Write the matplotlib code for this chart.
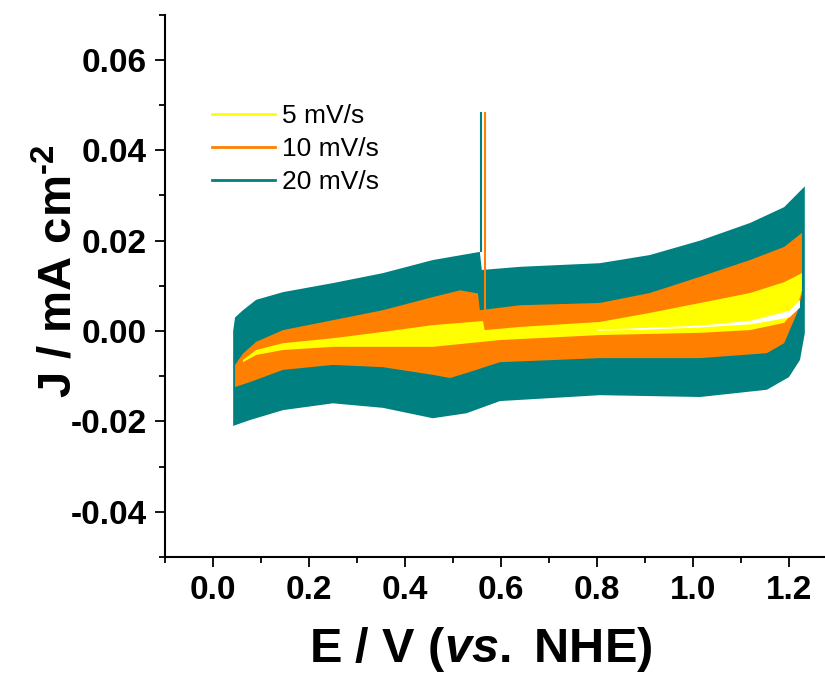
import matplotlib
matplotlib.use("Agg")
import matplotlib.pyplot as plt
import numpy as np
from matplotlib.ticker import MultipleLocator

YELLOW = "#ffff00"
ORANGE = "#ff8000"
TEAL = "#008080"

# 20 mV/s envelope (E in V, J in mA cm-2)
teal_up_x = [0.042, 0.046, 0.0625, 0.09, 0.146, 0.25, 0.354, 0.458, 0.556, 0.560,
             0.64, 0.806, 0.91, 1.015, 1.119, 1.19, 1.233]
teal_up_j = [0.000, 0.0030, 0.0046, 0.0069, 0.0086, 0.0106, 0.0128, 0.0157, 0.0175, 0.0135,
             0.0142, 0.0150, 0.0168, 0.0200, 0.0239, 0.0274, 0.0320]
teal_lo_x = [0.042, 0.077, 0.146, 0.25, 0.354, 0.458, 0.528, 0.598, 0.806, 1.015,
             1.154, 1.20, 1.223, 1.233]
teal_lo_j = [-0.021, -0.0197, -0.0175, -0.0160, -0.0170, -0.0193, -0.0182, -0.0155, -0.0142, -0.0146,
             -0.0130, -0.0102, -0.0064, -0.0005]

# 10 mV/s envelope
orange_up_x = [0.046, 0.0625, 0.09, 0.146, 0.25, 0.354, 0.458, 0.515, 0.552, 0.556,
               0.64, 0.806, 0.91, 1.015, 1.119, 1.19, 1.227]
orange_up_j = [-0.0075, -0.0050, -0.0024, 0.0002, 0.0024, 0.0046, 0.0075, 0.0090, 0.0083, 0.0046,
               0.0057, 0.0062, 0.0084, 0.0120, 0.0157, 0.0186, 0.0217]
orange_lo_x = [0.046, 0.077, 0.146, 0.25, 0.354, 0.458, 0.494, 0.528, 0.598, 0.806,
               1.015, 1.154, 1.19, 1.217, 1.227]
orange_lo_j = [-0.0124, -0.0113, -0.0086, -0.0075, -0.0080, -0.0097, -0.0104, -0.0093, -0.0069, -0.0060,
               -0.0060, -0.0049, -0.0027, 0.0040, 0.0080]

# 5 mV/s envelope
yellow_up_x = [0.0625, 0.09, 0.146, 0.25, 0.354, 0.458, 0.5625, 0.566, 0.64, 0.806,
               0.91, 1.015, 1.119, 1.19, 1.227]
yellow_up_j = [-0.0064, -0.0042, -0.0027, -0.0016, -0.0002, 0.0013, 0.0022, 0.0002, 0.0009, 0.0020,
               0.0040, 0.0062, 0.0084, 0.0108, 0.0128]
yellow_lo_x = [0.0625, 0.09, 0.146, 0.25, 0.354, 0.458, 0.598, 0.806, 1.015, 1.119,
               1.19, 1.217, 1.227]
yellow_lo_j = [-0.0069, -0.0053, -0.0042, -0.0035, -0.0035, -0.0035, -0.0020, -0.0009, -0.0004, 0.0002,
               0.0018, 0.0053, 0.0090]

# open gap between the 5 mV/s sweeps
gap_x = [0.80, 0.90, 1.015, 1.12, 1.20, 1.222]
gap_hi = [0.0004, 0.0008, 0.0013, 0.0024, 0.0046, 0.0070]
gap_lo = [0.0002, 0.0004, 0.0009, 0.0016, 0.0031, 0.0053]

# switching spikes
spike_x = {"teal": 0.5585, "orange": 0.566}
spike_j = {"teal": (0.0175, 0.0485), "orange": (0.0046, 0.0485)}

plt.rcParams.update({
    "font.family": ["Liberation Sans", "DejaVu Sans"],
    "mathtext.fontset": "custom",
    "mathtext.rm": "Liberation Sans:bold",
    "mathtext.it": "Liberation Sans:bold:italic",
    "mathtext.bf": "Liberation Sans:bold",
})


def band(ax, ux, uj, lx, lj, color):
    xs = np.concatenate([ux, lx[::-1]])
    ys = np.concatenate([uj, lj[::-1]])
    ax.fill(xs, ys, color=color, linewidth=0, zorder=2)


fig = plt.figure(figsize=(8.25, 6.75), dpi=100)
ax = fig.add_axes([0.2, 0.1748, 0.8145, 0.8036])

band(ax, teal_up_x, teal_up_j, teal_lo_x, teal_lo_j, TEAL)
band(ax, orange_up_x, orange_up_j, orange_lo_x, orange_lo_j, ORANGE)
band(ax, yellow_up_x, yellow_up_j, yellow_lo_x, yellow_lo_j, YELLOW)
ax.fill_between(gap_x, gap_lo, gap_hi, color="white", linewidth=0, zorder=2)

ax.vlines(spike_x["teal"], *spike_j["teal"], color=TEAL, linewidth=1.5, zorder=3)
ax.vlines(spike_x["orange"], *spike_j["orange"], color=ORANGE, linewidth=1.5, zorder=3)

ax.plot([], [], color=YELLOW, linewidth=2, label="5 mV/s")
ax.plot([], [], color=ORANGE, linewidth=2, label="10 mV/s")
ax.plot([], [], color=TEAL, linewidth=2, label="20 mV/s")
ax.legend(loc="upper left", bbox_to_anchor=(0.07, 0.835), frameon=False,
          fontsize=19, handlelength=2.4, handletextpad=0.27, labelspacing=0.34,
          borderpad=0, borderaxespad=0)

ax.set_xlim(-0.1, 1.3)
ax.set_ylim(-0.05, 0.07)
ax.xaxis.set_minor_locator(MultipleLocator(0.1))
ax.yaxis.set_minor_locator(MultipleLocator(0.01))
ax.set_xticks([0.0, 0.2, 0.4, 0.6, 0.8, 1.0, 1.2])
ax.set_xticklabels(["0.0", "0.2", "0.4", "0.6", "0.8", "1.0", "1.2"])
ax.set_yticks([-0.04, -0.02, 0.00, 0.02, 0.04, 0.06])
ax.set_yticklabels(["-0.04", "-0.02", "0.00", "0.02", "0.04", "0.06"])

for spine in ("top", "right"):
    ax.spines[spine].set_visible(False)
for spine in ("left", "bottom"):
    ax.spines[spine].set_linewidth(1.5)
ax.tick_params(which="major", direction="out", length=7, width=1.3, pad=6,
               labelsize=24)
ax.tick_params(which="minor", direction="out", length=4.5, width=1.3)
for lab in ax.get_xticklabels() + ax.get_yticklabels():
    lab.set_fontweight("bold")

ax.set_xlabel(r"E / V ($\mathit{vs.}$ NHE)", fontsize=35, fontweight="bold", labelpad=12)
ax.xaxis.set_label_coords(0.47, -0.125)
ax.set_ylabel(r"J / mA cm$^{\text{-2}}$", fontsize=34, fontweight="bold")
ax.yaxis.set_label_coords(-0.123, 0.527)

fig.savefig("out.png", dpi=100)
